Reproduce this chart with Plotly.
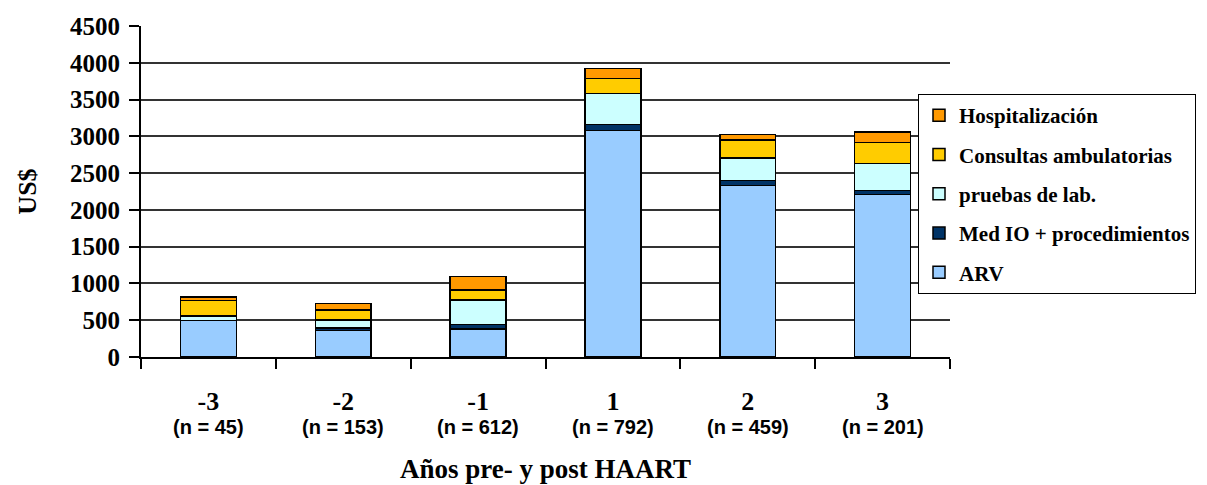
import plotly.graph_objects as go

years = ["-3", "-2", "-1", "1", "2", "3"]
n_sizes = [45, 153, 612, 792, 459, 201]

series_names = ["ARV", "Med IO + procedimientos", "pruebas de lab.",
                "Consultas ambulatorias", "Hospitalización"]
arv = [495, 358, 381, 3079, 2334, 2207]
med_io = [0, 33, 64, 82, 64, 59]
lab = [64, 113, 331, 418, 309, 364]
consultas = [208, 136, 132, 208, 240, 286]
hosp = [46, 86, 185, 136, 78, 140]
colors = ["#99CCFF", "#003366", "#CCFFFF", "#FFCC00", "#FF9900"]

serif = "Liberation Serif"
sans = "Liberation Sans"

fig = go.Figure()
all_vals = [arv, med_io, lab, consultas, hosp]
for i, (name, vals, col) in enumerate(zip(series_names, all_vals, colors)):
    fig.add_bar(x=years, y=vals, name=name, legendgroup=name,
                legendrank=len(series_names) - i,
                marker=dict(color=col, line=dict(color="black", width=1.5)))

# page body has an 8px margin: figure coordinates = screen - 8
OFF = 8
W, H = 1207 - OFF, 485 - OFF
L = 141 - OFF
T = 26 - OFF
plot_right = 950 - OFF
plot_bottom = 357 - OFF
R = W - plot_right
B = H - plot_bottom
pw = plot_right - L
ph = plot_bottom - T

fig.update_layout(
    width=W, height=H,
    barmode="stack", bargap=0.585,
    plot_bgcolor="white", paper_bgcolor="white",
    margin=dict(l=L, r=R, t=T, b=B, autoexpand=False),
    font=dict(family=serif, color="black"),
    legend=dict(
        x=(918 - OFF - L) / pw, y=(plot_bottom - (94 - OFF)) / ph,
        xanchor="left", yanchor="top",
        bordercolor="black", borderwidth=1, bgcolor="white",
        font=dict(family=serif, size=21, weight="bold", color="black"),
        traceorder="grouped", tracegroupgap=9,
    ),
    xaxis=dict(
        type="category", tickson="boundaries", ticks="outside", ticklen=10,
        tickwidth=1.5, tickcolor="black", showline=True, linecolor="black",
        linewidth=2, ticklabelstandoff=20,
        tickfont=dict(family=serif, size=26, weight="bold", color="black"),
        title=dict(text="Años pre- y post HAART", standoff=44,
                   font=dict(family=serif, size=27, weight="bold", color="black")),
    ),
    yaxis=dict(
        range=[0, 4500], dtick=500, showgrid=True, gridcolor="#333333", gridwidth=1.5,
        ticks="outside", ticklen=10, tickwidth=1.5, tickcolor="black",
        showline=True, linecolor="black", linewidth=2, zeroline=False,
        ticklabelstandoff=4,
        tickfont=dict(family=serif, size=25, weight="bold", color="black"),
        title=dict(text="US$", standoff=26,
                   font=dict(family=serif, size=26, weight="bold", color="black")),
    ),
)

for i, n in enumerate(n_sizes):
    fig.add_annotation(x=i, y=0, xref="x", yref="paper", yshift=-70,
                       text=f"(n = {n})", showarrow=False, yanchor="middle",
                       font=dict(family=sans, size=20, weight="bold", color="black"))

fig.write_html("out.html")
